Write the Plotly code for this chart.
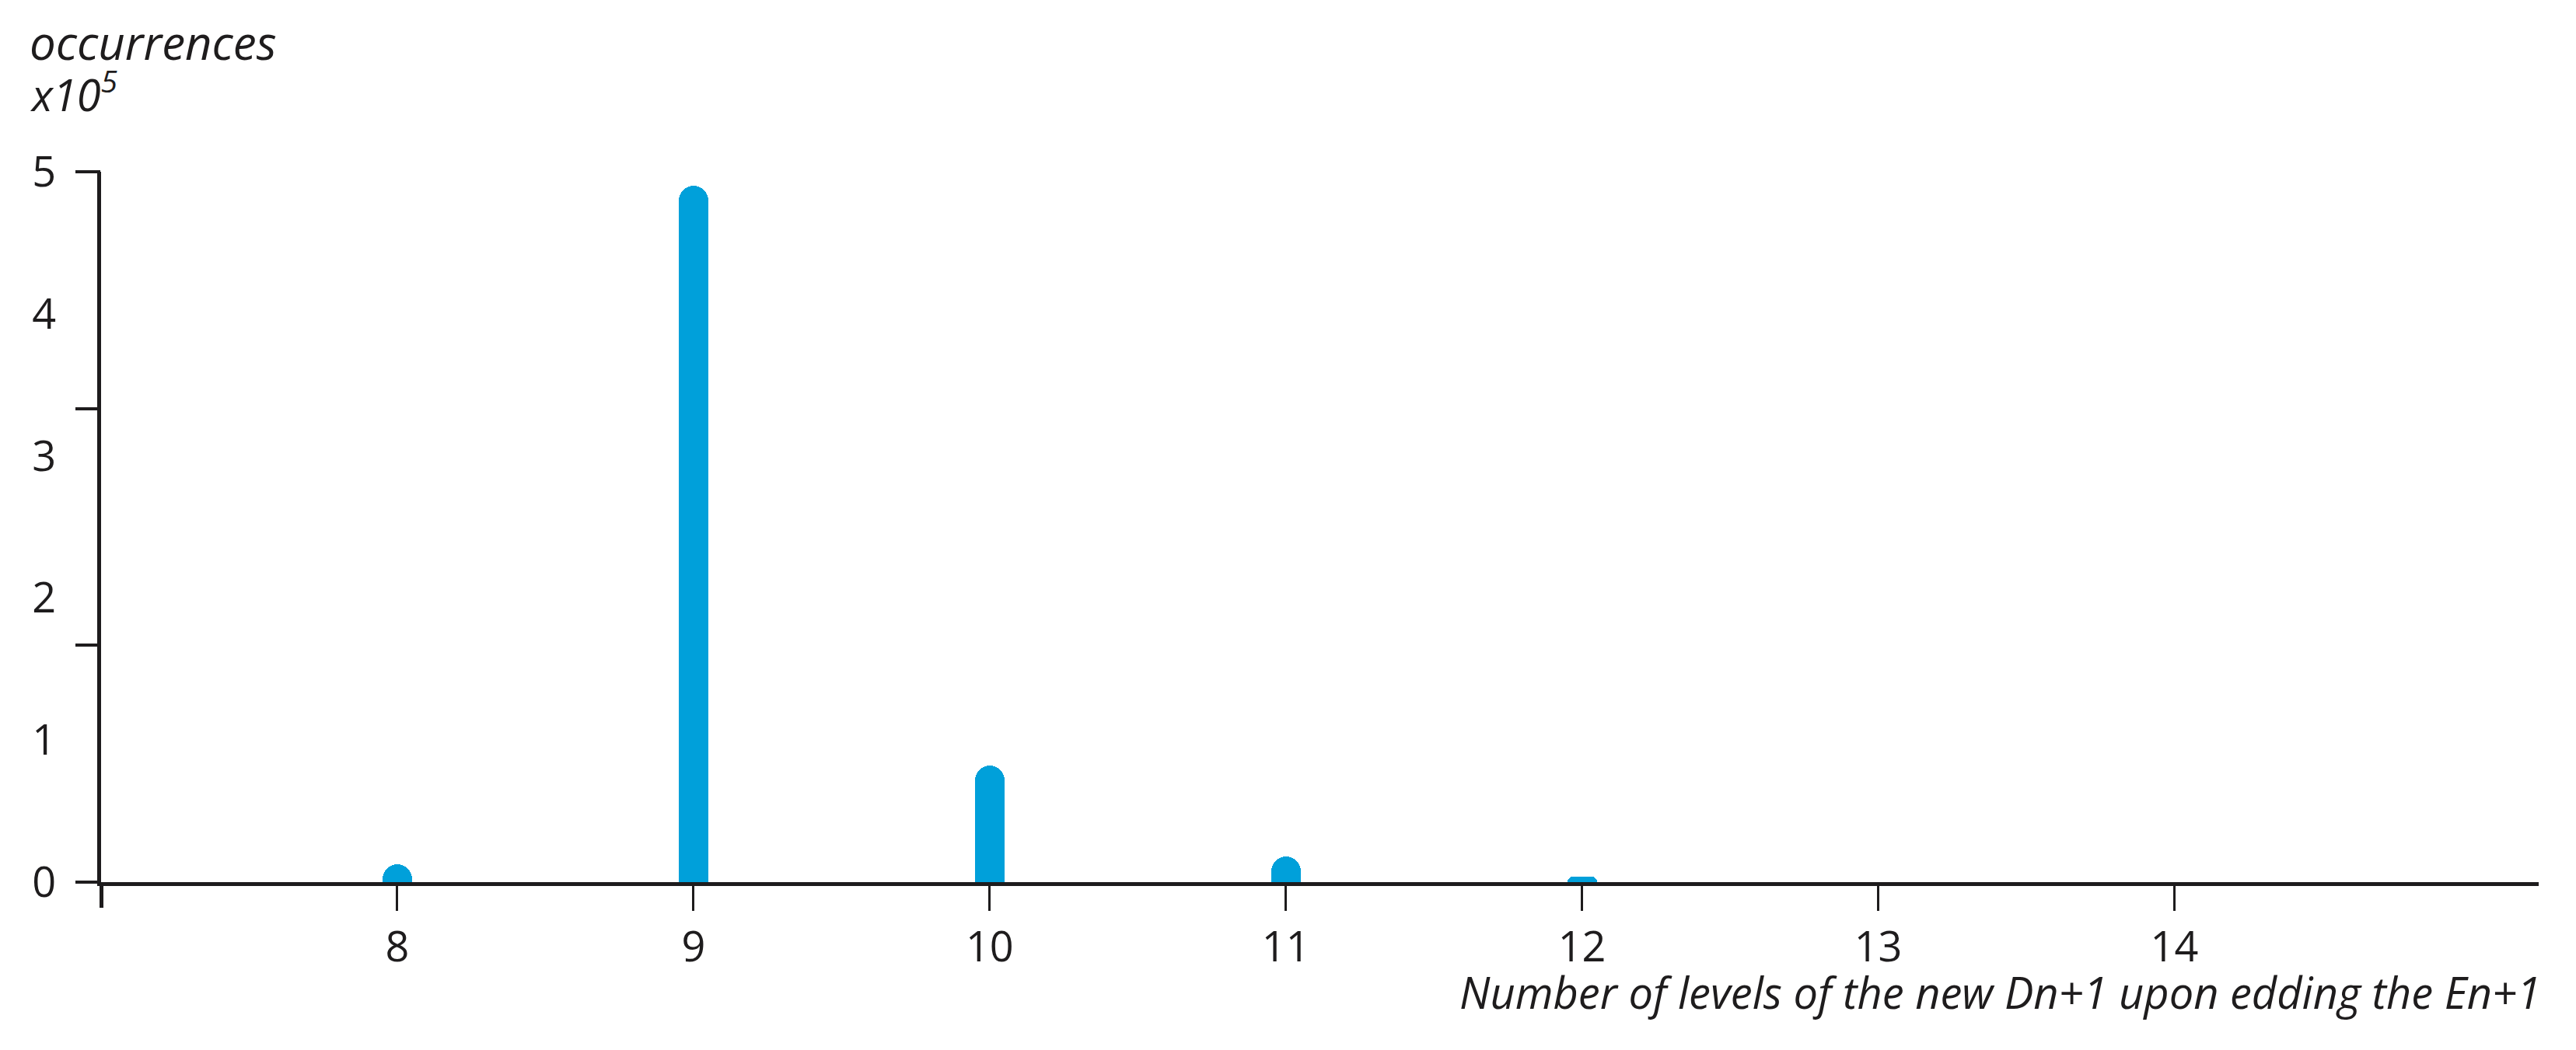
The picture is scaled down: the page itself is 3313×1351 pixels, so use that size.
import plotly.graph_objects as go

# ---- data ----
levels = [8, 9, 10, 11, 12]
occurrences_e5 = [0.125, 4.90, 0.82, 0.18, 0.04]
x_label_vals = [8, 9, 10, 11, 12, 13, 14]
x_label_text = ["8", "9", "10", "11", "12", "13", "14"]
x_origin_mark = [7]
y_label_vals = [0, 1, 2, 3, 4, 5]
y_label_text = ["0", "1", "2", "3", "4", "5"]
y_mark_vals = [0, 5 / 3, 10 / 3, 5]
y_title = "occurrences"
y_scale = "x10<sup>5</sup>"
x_title = "Number of levels of the new Dn+1 upon edding the En+1"

W, H = 3313, 1351
L, R, T, B = 130, 48, 221, 216
PW, PH = W - L - R, H - T - B
INK = "#1e1c1d"
BLUE = "#00a0da"
FONT = "Open Sans"
XR = [7, 15.23]


def px_x(p):
    return (p - L) / PW


def px_y(p):
    return (H - B - p) / PH


fig = go.Figure()
fig.add_trace(go.Bar(
    x=levels, y=occurrences_e5, width=0.1,
    marker=dict(color=BLUE, cornerradius=19, line=dict(width=0)),
    hoverinfo="x+y", showlegend=False,
))
# helper traces so the tick-mark-only axes are rendered
fig.add_trace(go.Scatter(x=[None], y=[None], yaxis="y2", mode="markers",
                         showlegend=False, hoverinfo="skip"))
fig.add_trace(go.Scatter(x=[None], y=[None], xaxis="x2", mode="markers",
                         showlegend=False, hoverinfo="skip"))

fig.update_layout(
    width=W, height=H,
    margin=dict(l=L, r=R, t=T, b=B, pad=0),
    paper_bgcolor="white", plot_bgcolor="white",
    font=dict(family=FONT, color=INK, size=54),
    bargap=0,
    xaxis=dict(
        range=XR, tickmode="array", tickvals=x_label_vals, ticktext=x_label_text,
        ticks="outside", ticklen=32, tickwidth=3, tickcolor=INK,
        showline=True, linewidth=5, linecolor=INK, showgrid=False, zeroline=False,
        tickfont=dict(family=FONT, size=54, color=INK),
    ),
    xaxis2=dict(
        range=XR, overlaying="x", side="bottom", anchor="y", tickmode="array",
        tickvals=x_origin_mark, ticks="outside", ticklen=32, tickwidth=5, tickcolor=INK,
        showticklabels=False, showline=False, showgrid=False, zeroline=False,
    ),
    yaxis=dict(
        range=[0, 5], tickmode="array", tickvals=y_label_vals, ticktext=y_label_text,
        ticks="", showline=True, linewidth=5, linecolor=INK, showgrid=False, zeroline=False,
        tickfont=dict(family=FONT, size=54, color=INK), ticklabelstandoff=42,
    ),
    yaxis2=dict(
        range=[0, 5], overlaying="y", side="left", tickmode="array", tickvals=y_mark_vals,
        ticks="outside", ticklen=32, tickwidth=4, tickcolor=INK, showticklabels=False,
        showline=False, showgrid=False, zeroline=False,
    ),
    annotations=[
        dict(text=y_title, xref="paper", yref="paper", x=px_x(36), y=px_y(54),
             xanchor="left", yanchor="middle", showarrow=False,
             font=dict(family=FONT, size=60, color=INK, style="italic")),
        dict(text=y_scale, xref="paper", yref="paper", x=px_x(36), y=px_y(118),
             xanchor="left", yanchor="middle", showarrow=False,
             font=dict(family=FONT, size=56, color=INK, style="italic")),
        dict(text=x_title, xref="paper", yref="paper", x=px_x(3270), y=px_y(1276),
             xanchor="right", yanchor="middle", showarrow=False,
             font=dict(family=FONT, size=56, color=INK, style="italic")),
    ],
)

fig.write_html("out.html", config={"displayModeBar": False},
               post_script="document.body.style.margin='0';document.body.style.overflow='hidden';")
